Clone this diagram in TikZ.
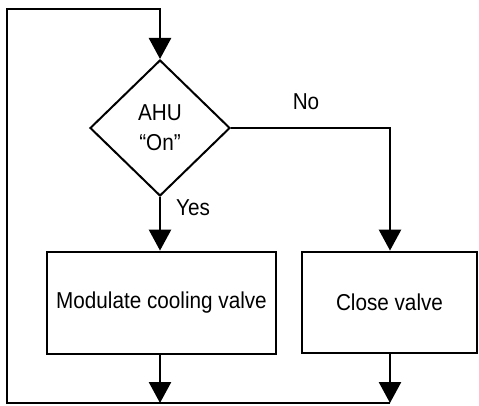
\documentclass[tikz,border=0pt]{standalone}
\usepackage{fontspec}
\setmainfont{Liberation Sans}[FakeStretch=0.9]
\usetikzlibrary{shapes.geometric,arrows.meta}
\begin{document}
\begin{tikzpicture}[x=1pt,y=-1pt,
  every node/.style={font=\fontsize{23}{30}\selectfont, inner sep=0pt},
  boxnode/.style={draw, line width=2.8pt, rectangle},
  decision/.style={draw, line width=2pt, diamond, aspect=1.03, align=center},
  conn/.style={line width=2.6pt, line join=miter},
  arr/.style={conn, -{Triangle[width=22pt,length=21pt]}}]
\useasboundingbox (0,0) rectangle (479,406);
\node[decision, minimum width=140pt, minimum height=136pt] (dia) at (160,128) {AHU\\“On”};
\node[boxnode, minimum width=229pt, minimum height=102pt] (mod) at (161.5,303) {Modulate cooling valve};
\node[boxnode, minimum width=175pt, minimum height=101pt] (close) at (389.5,302.5) {Close valve};
\node (no) at (306,102) {No};
\node (yes) at (193,208) {Yes};
\coordinate (tl) at (7,9);
\coordinate (tr) at (160,9);
\coordinate (bl) at (7,403);
\coordinate (bm) at (160,403);
\coordinate (br) at (390,403);
\coordinate (nr) at (390,128);
\draw[arr] (br) -- (bl) -- (tl) -- (tr) -- (dia.north);
\draw[arr] (dia.south) -- (dia.south |- mod.north);
\draw[arr] (dia.east) -- (nr) -- (nr |- close.north);
\draw[arr] (bm |- mod.south) -- (bm);
\draw[arr] (br |- close.south) -- (br);
\end{tikzpicture}
\end{document}
